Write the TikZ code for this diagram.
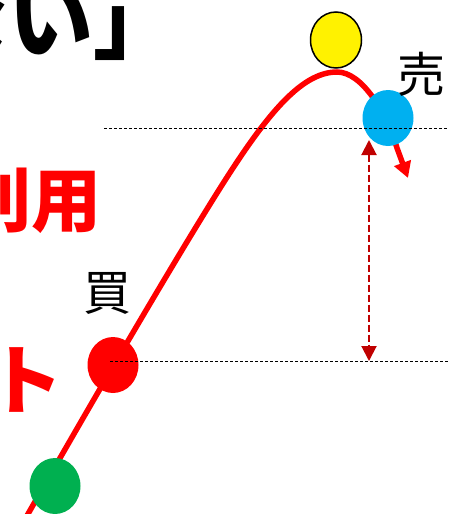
\documentclass[tikz,border=0pt]{standalone}
\usepackage{fontspec}
\setmainfont{Noto Sans CJK JP}
\usepackage{tikz}
\usetikzlibrary{arrows.meta,shapes.geometric}
\definecolor{dotgreen}{HTML}{00B050}
\definecolor{dotblue}{HTML}{00B0F0}
\definecolor{gapred}{HTML}{C00000}

\begin{document}
\begin{tikzpicture}[x=1pt,y=-1pt,
  dot/.style={ellipse,minimum width=51pt,minimum height=56pt,inner sep=0pt},
  big text/.style={font=\fontsize{70}{70}\selectfont\bfseries,inner sep=0pt},
  mark text/.style={font=\fontsize{48}{48}\selectfont,inner sep=0pt},
  level line/.style={black,line width=0.8pt,dash pattern=on 3pt off 2pt},
  price/.style={red,line width=5.5pt,-{Triangle[width=17pt,length=16pt]}},
  gap/.style={gapred,line width=2pt,dash pattern=on 7pt off 3pt,
    {Triangle[width=15pt,length=15pt]}-{Triangle[width=15pt,length=15pt]}}]

  \useasboundingbox (0,0) rectangle (449,514);
  \clip (0,0) rectangle (449,514);

  % cut-off texts
  \node[big text,font=\fontsize{85}{85}\selectfont\bfseries,anchor=base east] (head) at (179,52) {ない」};
  \node[big text,red,anchor=east] (use) at (102,200) {利用};
  \node[big text,red,font=\fontsize{76}{76}\selectfont\bfseries,anchor=east] (kata) at (64,380) {ト};

  % price curve
  \draw[price] (20,528) .. controls (90,405) and (170,268) .. (217,193)
    .. controls (264,118) and (300,72) .. (337,72)
    .. controls (362,72) and (386,112) .. (397,148) -- (408,178);

  \node[dot,fill=dotgreen] (start) at (55,486) {};
  \node[dot,fill=red] (buy) at (113,365) {};
  \node[dot,fill=yellow,draw=black,line width=1.5pt] (peak) at (336,40) {};
  \node[dot,fill=dotblue] (sell) at (388,118) {};

  \node[mark text] (buylabel) at (107,293) {買};
  \node[mark text] (selllabel) at (421,74) {売};

  % levels
  \coordinate (hiL) at (104,128);
  \coordinate (hiR) at (449,128);
  \coordinate (loL) at (110,361);
  \coordinate (loR) at (449,361);
  \draw[level line] (hiL) -- (hiR);
  \draw[level line] (loL) -- (loR);

  \coordinate (gapTop) at (369,140);
  \coordinate (gapBot) at (369,361);
  \draw[gap] (gapTop) -- (gapBot);

\end{tikzpicture}
\end{document}
